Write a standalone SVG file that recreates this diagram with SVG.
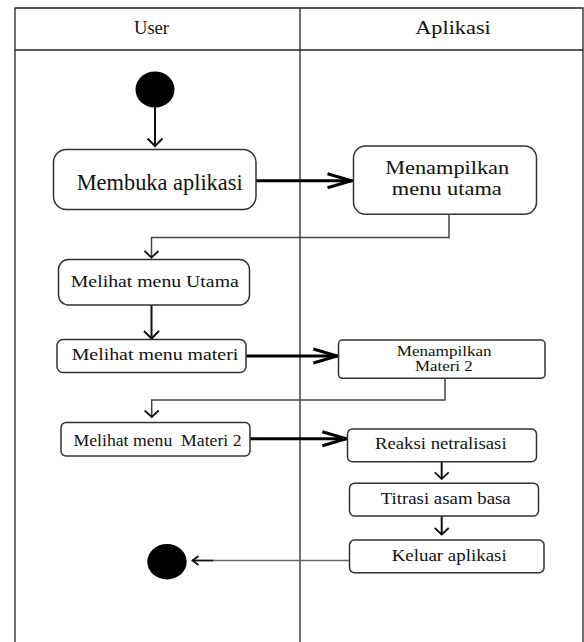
<svg xmlns="http://www.w3.org/2000/svg" width="584" height="642" viewBox="0 0 584 642">
  <style>
    .lane { fill: none; stroke: #222; stroke-width: 1.3; }
    .box { fill: #fff; stroke: #333; stroke-width: 1.5; }
    .dot { fill: #000; }
    .t { font-family: "Liberation Serif", "Times New Roman", serif; fill: #111; text-anchor: middle; }
    .flow { fill: none; stroke: #111; stroke-width: 2; }
    .thick { fill: none; stroke: #000; stroke-width: 3; }
    .elbow { fill: none; stroke: #444; stroke-width: 1.5; }
    .back { fill: none; stroke: #666; stroke-width: 1.5; }
  </style>
  <defs>
    <marker id="arrowDown" markerUnits="userSpaceOnUse" viewBox="-12 -10 14 20" markerWidth="14" markerHeight="20" refX="0" refY="0" orient="auto">
      <path d="M-8,-7.5 L-0.5,0 L-8,7.5" fill="none" stroke="#111" stroke-width="2"/>
    </marker>
    <marker id="arrowBig" markerUnits="userSpaceOnUse" viewBox="-28 -10 30 20" markerWidth="30" markerHeight="20" refX="0" refY="0" orient="auto">
      <path d="M-25,-7 L-1,0 L-25,7" fill="none" stroke="#000" stroke-width="3"/>
    </marker>
    <marker id="arrowElbow" markerUnits="userSpaceOnUse" viewBox="-10 -10 12 20" markerWidth="12" markerHeight="20" refX="0" refY="0" orient="auto">
      <path d="M-7,-7 L-0.5,0 L-7,7" fill="none" stroke="#111" stroke-width="1.8"/>
    </marker>
    <marker id="arrowSmall" markerUnits="userSpaceOnUse" viewBox="-10 -8 12 16" markerWidth="12" markerHeight="16" refX="0" refY="0" orient="auto">
      <path d="M-6.5,-4.5 L-0.5,0 L-6.5,4.5" fill="none" stroke="#111" stroke-width="1.8"/>
    </marker>
  </defs>

  <!-- swimlane frame -->
  <g id="lanes">
    <path class="lane" d="M15,642 V8 H583 V642"/>
    <path class="lane" d="M15,50 H583"/>
    <path class="lane" d="M300,8 V642"/>
    <text class="t" x="151.5" y="34.3" font-size="19" textLength="35" lengthAdjust="spacingAndGlyphs">User</text>
    <text class="t" x="453" y="34.3" font-size="19" textLength="75.5" lengthAdjust="spacingAndGlyphs">Aplikasi</text>
  </g>

  <!-- connectors -->
  <g id="connectors">
    <path class="flow" d="M155,107 V146.5" marker-end="url(#arrowDown)"/>
    <path class="thick" d="M256,180.7 H352.5" marker-end="url(#arrowBig)"/>
    <path class="elbow" d="M449,214.3 V237.5 H151.5 V258" marker-end="url(#arrowElbow)"/>
    <path class="flow" d="M151.5,305 V339" marker-end="url(#arrowDown)"/>
    <path class="thick" d="M246,356 H338.3" marker-end="url(#arrowBig)"/>
    <path class="elbow" d="M445,378.3 V400 H151.7 V417.5" marker-end="url(#arrowElbow)"/>
    <path class="thick" d="M250,438.8 H347.3" marker-end="url(#arrowBig)"/>
    <path class="flow" d="M441.7,461.7 V479.3" marker-end="url(#arrowElbow)"/>
    <path class="flow" d="M441.7,516 V535" marker-end="url(#arrowElbow)"/>
    <path class="back" d="M349.3,560.5 H192" marker-end="url(#arrowSmall)"/>
    <path d="M213,560.5 H193" stroke="#111" stroke-width="1.6"/>
  </g>

  <g id="start">
    <ellipse class="dot" cx="155" cy="89.5" rx="19.5" ry="18"/>
  </g>

  <g id="membuka-aplikasi">
    <rect class="box" x="53.5" y="149.5" width="202.5" height="60" rx="13"/>
    <text class="t" x="159.7" y="189.5" font-size="24" textLength="166" lengthAdjust="spacingAndGlyphs">Membuka aplikasi</text>
  </g>

  <g id="menampilkan-menu-utama">
    <rect class="box" x="353.5" y="146" width="183" height="68.3" rx="12"/>
    <text class="t" x="447.2" y="174.3" font-size="19" textLength="124" lengthAdjust="spacingAndGlyphs">Menampilkan</text>
    <text class="t" x="446.8" y="195" font-size="19" textLength="110" lengthAdjust="spacingAndGlyphs">menu utama</text>
  </g>

  <g id="melihat-menu-utama">
    <rect class="box" x="58.5" y="259.5" width="191" height="45.5" rx="10"/>
    <text class="t" x="154.8" y="287.3" font-size="17" textLength="168" lengthAdjust="spacingAndGlyphs">Melihat menu Utama</text>
  </g>

  <g id="melihat-menu-materi">
    <rect class="box" x="57" y="339.5" width="189" height="33" rx="6"/>
    <text class="t" x="155" y="360" font-size="17" textLength="166.7" lengthAdjust="spacingAndGlyphs">Melihat menu materi</text>
  </g>

  <g id="menampilkan-materi-2">
    <rect class="box" x="338.5" y="340" width="206.5" height="38.3" rx="4"/>
    <text class="t" x="444.2" y="355.5" font-size="15" textLength="95" lengthAdjust="spacingAndGlyphs">Menampilkan</text>
    <text class="t" x="443.8" y="370.5" font-size="15" textLength="57.7" lengthAdjust="spacingAndGlyphs">Materi 2</text>
  </g>

  <g id="melihat-menu-materi-2">
    <rect class="box" x="61" y="422.5" width="189" height="33.5" rx="5"/>
    <text class="t" x="157.5" y="446" font-size="17" textLength="168" lengthAdjust="spacingAndGlyphs" style="white-space:pre">Melihat menu  Materi 2</text>
  </g>

  <g id="reaksi-netralisasi">
    <rect class="box" x="347.5" y="429" width="189" height="32.7" rx="5"/>
    <text class="t" x="440.8" y="449.3" font-size="16.5" textLength="131.7" lengthAdjust="spacingAndGlyphs">Reaksi netralisasi</text>
  </g>

  <g id="titrasi-asam-basa">
    <rect class="box" x="349.5" y="483.3" width="189" height="32.7" rx="5"/>
    <text class="t" x="445.7" y="504.3" font-size="16.5" textLength="130" lengthAdjust="spacingAndGlyphs">Titrasi asam basa</text>
  </g>

  <g id="keluar-aplikasi">
    <rect class="box" x="349.5" y="540" width="194.5" height="32.7" rx="5"/>
    <text class="t" x="449.2" y="560.7" font-size="16.5" textLength="115" lengthAdjust="spacingAndGlyphs">Keluar aplikasi</text>
  </g>

  <g id="end">
    <ellipse class="dot" cx="167" cy="561.7" rx="19.7" ry="17.7"/>
  </g>
</svg>
